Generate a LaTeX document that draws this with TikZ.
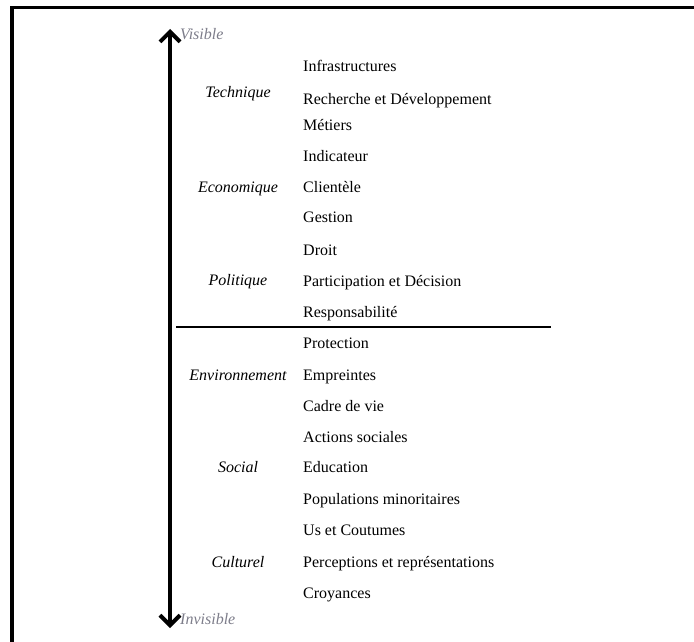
\documentclass[tikz,border=0pt]{standalone}
\usepackage{fontspec}
\setmainfont{Liberation Serif}
\usepackage{tikz}
\usetikzlibrary{arrows.meta,positioning}
\definecolor{visgray}{RGB}{125,125,138}
\tikzset{
  cat/.style={font=\fontsize{16}{18}\selectfont\itshape, anchor=base, inner sep=0pt},
  item/.style={font=\fontsize{16}{18}\selectfont, anchor=base west, inner sep=0pt},
  pole/.style={font=\fontsize{16}{18}\selectfont\itshape, text=visgray, anchor=base west, inner sep=0pt},
  axis/.style={line width=4pt, {Straight Barb[length=10pt,width=20pt,line width=4pt]}-{Straight Barb[length=10pt,width=20pt,line width=4pt]}},
  sep/.style={line width=2.8pt},
  frame/.style={line width=3.8pt}
}
\begin{document}
\begin{tikzpicture}[x=1pt, y=-1pt]
    \useasboundingbox (0,0) rectangle (694,642);
    % cadre
    \draw[frame] (694,7.6) -- (12,7.6) -- (12,642);

    % axe visible / invisible
    \coordinate (top) at (170,29);
    \coordinate (bot) at (170,628);
    \draw[axis] (bot) -- (top);
    \node[pole] (vis) at (180,40) {Visible};
    \node[pole] (invis) at (180,624) {Invisible};

    % dimensions
    \node[cat] (tech) at (238,97) {Technique};
    \node[cat] (eco) at (238,192) {Economique};
    \node[cat] (pol) at (238,285) {Politique};
    \node[cat] (env) at (238,380) {Environnement};
    \node[cat] (soc) at (238,472) {Social};
    \node[cat] (cult) at (238,567) {Culturel};

    % sous-dimensions
    \node[item] (infra) at (303,72) {Infrastructures};
    \node[item] (rd) at (303,104) {Recherche et Développement};
    \node[item] (met) at (303,131) {Métiers};
    \node[item] (ind) at (303,161) {Indicateur};
    \node[item] (cli) at (303,192) {Clientèle};
    \node[item] (ges) at (303,222) {Gestion};
    \node[item] (dro) at (303,255) {Droit};
    \node[item] (part) at (303,286) {Participation et Décision};
    \node[item] (resp) at (303,317) {Responsabilité};
    \node[item] (prot) at (303,348) {Protection};
    \node[item] (emp) at (303,380) {Empreintes};
    \node[item] (cadre) at (303,411) {Cadre de vie};
    \node[item] (act) at (303,442) {Actions sociales};
    \node[item] (edu) at (303,472) {Education};
    \node[item] (popu) at (303,504) {Populations minoritaires};
    \node[item] (us) at (303,535) {Us et Coutumes};
    \node[item] (perc) at (303,567) {Perceptions et représentations};
    \node[item] (croy) at (303,598) {Croyances};

    % separation
    \coordinate (sepL) at (176,327);
    \coordinate (sepR) at (551,327);
    \draw[sep] (sepL) -- (sepR);
  \end{tikzpicture}
\end{document}
